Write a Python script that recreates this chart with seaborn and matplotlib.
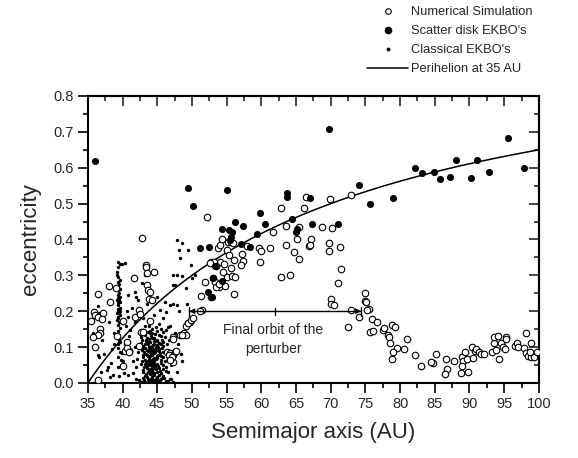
import numpy as np
import pandas as pd
import matplotlib
matplotlib.use('Agg')
import matplotlib.pyplot as plt
import seaborn as sns
from matplotlib.lines import Line2D
from matplotlib.ticker import MultipleLocator

# ---------------- data (semimajor axis AU, eccentricity) ----------------
numerical_sim = [
    (42.8,0.404),(43.4,0.328),(43.4,0.322),(43.5,0.306),(44.6,0.309),(41.6,0.293),(43.5,0.273),
    (43.6,0.259),(44.0,0.255),(38.1,0.271),(39.1,0.264),(36.5,0.248),(43.8,0.233),(44.2,0.231),
    (38.2,0.226),(35.9,0.199),(36.1,0.190),(36.4,0.185),(37.2,0.196),(35.4,0.172),(37.0,0.179),
    (42.4,0.203),(41.8,0.183),(43.9,0.173),(40.1,0.173),(36.8,0.151),(36.7,0.138),(36.5,0.134),
    (35.7,0.127),(39.2,0.132),(40.6,0.115),(36.1,0.101),(40.3,0.090),(41.0,0.090),(42.3,0.103),
    (40.1,0.048),(36.4,0.008),(42.7,0.143),(42.5,0.192),(40.6,0.097),(40.9,0.087),(43.0,0.143),
    (47.2,0.127),(46.4,0.087),(46.9,0.083),(47.6,0.087),(47.3,0.078),(46.9,0.069),(47.3,0.059),
    (48.3,0.134),(48.8,0.138),(49.1,0.135),(49.4,0.166),(49.7,0.171),
    (46.7,0.078),(47.1,0.073),(46.8,0.064),(47.7,0.089),(47.3,0.122),(48.5,0.134),
    (49.1,0.159),(49.5,0.166),(49.9,0.176),(50.2,0.182),(51.5,0.203),(51.1,0.200),(51.3,0.243),
    (51.9,0.282),(53.0,0.292),(53.3,0.281),(52.1,0.462),(53.8,0.375),(54.0,0.385),(52.8,0.338),
    (54.0,0.336),(54.6,0.331),(55.0,0.371),(55.2,0.394),(54.5,0.310),(53.9,0.267),(55.1,0.296),
    (52.8,0.239),(53.5,0.268),(54.3,0.401),(55.7,0.392),(55.9,0.389),(53.2,0.337),(53.4,0.326),
    (52.6,0.334),(54.7,0.271),(53.9,0.276),(55.3,0.357),(55.6,0.320),(55.8,0.298),(56.2,0.295),
    (56.1,0.343),(56.1,0.248),(57.2,0.360),(57.4,0.341),(57.0,0.328),(57.9,0.382),
    (59.6,0.375),(60.0,0.368),(59.8,0.336),(61.3,0.377),(61.7,0.422),(62.8,0.489),(63.6,0.438),
    (63.6,0.385),(62.9,0.296),(64.1,0.302),(64.7,0.364),(65.4,0.347),(65.2,0.401),(65.5,0.434),
    (66.1,0.489),(66.4,0.519),(66.8,0.383),(67.1,0.400),(67.0,0.385),(68.8,0.434),(69.9,0.513),
    (70.2,0.431),(69.8,0.389),(69.8,0.369),(71.4,0.379),(71.5,0.319),(71.0,0.278),(72.9,0.524),
    (70.1,0.233),(70.0,0.219),(70.5,0.217),(72.9,0.203),(72.5,0.157),(74.1,0.183),(75.0,0.250),
    (75.0,0.229),(75.1,0.226),(75.5,0.207),(75.3,0.203),(75.9,0.179),(76.6,0.170),(75.6,0.141),
    (76.1,0.145),(77.5,0.149),(77.7,0.153),(78.8,0.163),(79.3,0.157),(78.3,0.135),(78.4,0.128),
    (78.6,0.111),(79.5,0.098),(79.0,0.085),(78.8,0.067),
    (81.0,0.123),(80.6,0.094),(82.2,0.078),(83.0,0.046),(84.7,0.056),(84.5,0.058),(85.2,0.081),
    (86.6,0.066),(86.7,0.038),(86.4,0.025),(87.8,0.060),(88.9,0.072),(89.1,0.060),(88.9,0.047),
    (88.8,0.029),(89.8,0.031),(89.4,0.086),(89.7,0.068),(90.5,0.069),(90.4,0.101),(90.8,0.090),
    (91.0,0.094),(91.3,0.087),(91.6,0.081),(92.1,0.081),(93.2,0.087),(93.5,0.111),(93.8,0.092),
    (93.5,0.127),(94.1,0.131),(94.3,0.066),(94.5,0.111),(94.8,0.101),(95.1,0.096),(95.2,0.129),
    (95.2,0.123),(96.5,0.104),(96.8,0.111),(97.0,0.101),(98.2,0.140),(97.8,0.097),(98.1,0.083),
    (98.5,0.075),(98.8,0.073),(99.3,0.073),(98.7,0.087),(98.9,0.111),(99.7,0.087),
]

scatter_disk = [
    (36.0,0.620),(49.4,0.543),(50.1,0.493),(51.1,0.375),(52.5,0.380),(55.0,0.538),(54.3,0.429),
    (55.4,0.427),(55.8,0.420),(55.6,0.408),(55.5,0.399),(56.2,0.448),(57.3,0.437),(57.0,0.388),
    (58.3,0.379),(59.4,0.416),(59.8,0.474),(60.6,0.442),(63.7,0.529),(63.7,0.519),(64.4,0.457),
    (65.2,0.428),(65.0,0.420),(67.0,0.517),(67.3,0.444),(69.8,0.707),(71.1,0.443),(74.1,0.552),
    (75.6,0.498),(79.0,0.517),(82.2,0.598),(83.2,0.585),(84.9,0.587),(85.8,0.569),(87.2,0.574),
    (88.0,0.622),(90.2,0.571),(91.1,0.621),(92.8,0.588),(95.5,0.682),(97.8,0.598),(53.3,0.325),
    (53.1,0.293),(54.4,0.283),(52.3,0.253),(52.9,0.239),
]

classical = [
    # plutino strip near 39.4 AU
    (39.4,0.336),(39.6,0.333),(39.9,0.333),(40.3,0.335),(39.3,0.324),(39.2,0.310),(39.4,0.295),
    (39.6,0.288),(39.3,0.282),(39.5,0.276),(39.3,0.268),(39.4,0.262),(39.7,0.262),(39.3,0.259),
    (39.5,0.252),(39.3,0.245),(39.6,0.241),(39.4,0.238),(39.2,0.231),(39.5,0.231),(39.6,0.227),
    (39.3,0.222),(39.4,0.217),(39.6,0.210),(39.4,0.205),(39.3,0.200),(39.7,0.200),(39.5,0.194),
    (39.2,0.195),(39.6,0.190),(39.3,0.185),(39.4,0.180),(39.2,0.176),(39.5,0.170),(39.6,0.170),
    (39.4,0.162),(39.7,0.152),(39.3,0.145),(39.4,0.134),(39.3,0.135),(39.5,0.120),(39.6,0.115),
    (39.3,0.108),(39.4,0.097),(39.6,0.085),(39.4,0.073),(39.8,0.064),(39.3,0.045),(39.5,0.020),
    (39.2,0.300),
    # left sparse
    (36.4,0.215),(36.6,0.195),(35.8,0.140),(36.5,0.078),(36.6,0.072),(37.1,0.120),(37.9,0.045),
    (37.7,0.036),(38.4,0.055),(38.2,0.018),(38.6,0.022),(38.5,0.095),(38.8,0.140),(37.3,0.080),
    (38.0,0.170),(38.7,0.110),(36.9,0.030),
    # 40 - 42.5 AU
    (39.9,0.083),(40.1,0.060),(40.2,0.027),(40.8,0.022),(41.5,0.027),(41.1,0.148),(41.8,0.171),
    (40.8,0.185),(42.2,0.231),(42.0,0.241),(40.8,0.245),(41.8,0.255),(42.2,0.087),(41.8,0.101),
    (42.5,0.109),(41.0,0.130),(40.6,0.200),(41.3,0.210),(42.0,0.190),(40.5,0.160),(41.5,0.060),
    (42.0,0.045),(41.2,0.090),(40.4,0.110),(41.9,0.010),(42.3,0.140),(42.1,0.068),
    # dense classical belt
    (42.9,0.148),(43.6,0.142),(44.3,0.150),(45.0,0.145),(45.8,0.141),(46.3,0.147),(44.0,0.139),
    (42.7,0.128),(43.2,0.133),(43.8,0.122),(44.1,0.131),(44.6,0.125),(45.2,0.134),(45.7,0.121),
    (46.1,0.129),(43.5,0.126),(44.9,0.120),
    (42.6,0.112),(43.0,0.104),(43.4,0.117),(43.7,0.108),(44.0,0.113),(44.3,0.102),(44.6,0.116),
    (44.9,0.107),(45.3,0.111),(45.8,0.103),(46.4,0.109),(43.9,0.100),(44.5,0.109),(45.1,0.101),
    (43.2,0.110),
    (42.8,0.092),(43.1,0.085),(43.3,0.097),(43.6,0.088),(43.9,0.094),(44.1,0.081),(44.4,0.096),
    (44.7,0.087),(45.0,0.093),(45.4,0.084),(45.7,0.098),(46.2,0.090),(43.4,0.082),(44.2,0.090),
    (44.8,0.099),(45.2,0.089),(43.8,0.099),(44.5,0.083),
    (42.9,0.072),(43.2,0.065),(43.5,0.078),(43.8,0.069),(44.0,0.075),(44.2,0.062),(44.5,0.071),
    (44.8,0.066),(45.1,0.077),(45.5,0.064),(45.9,0.073),(43.6,0.061),(44.3,0.079),(44.9,0.074),
    (43.9,0.064),(44.6,0.060),(46.5,0.068),
    (42.7,0.052),(43.1,0.045),(43.4,0.058),(43.7,0.049),(43.9,0.055),(44.2,0.043),(44.4,0.057),
    (44.7,0.048),(45.0,0.054),(45.3,0.041),(45.8,0.050),(43.5,0.041),(44.1,0.051),(44.6,0.041),
    (44.3,0.048),
    (43.0,0.032),(43.4,0.025),(43.8,0.037),(44.1,0.028),(44.3,0.035),(44.6,0.022),(44.9,0.031),
    (45.6,0.027),(46.3,0.034),(43.6,0.030),(44.4,0.024),(44.0,0.038),(45.2,0.021),
    (42.4,0.008),(42.9,0.014),(43.3,0.004),(43.7,0.011),(44.0,0.006),(44.2,0.016),(44.5,0.003),
    (44.8,0.012),(45.2,0.007),(45.7,0.013),(46.2,0.005),(46.8,0.010),(43.5,0.017),(44.3,0.009),
    (44.7,0.002),(45.4,0.003),(46.0,0.015),(47.3,0.004),(42.6,0.002),(43.9,0.001),
    (43.1,0.138),(43.9,0.146),(44.7,0.136),(45.5,0.130),(42.8,0.120),(43.4,0.121),(44.2,0.124),
    (45.0,0.118),(45.9,0.114),(43.6,0.113),(44.4,0.105),(45.6,0.108),(42.9,0.098),(43.5,0.091),
    (44.0,0.086),(44.6,0.092),(45.3,0.096),(45.9,0.086),(43.0,0.079),(43.7,0.074),(44.4,0.066),
    (45.0,0.069),(45.6,0.076),(46.1,0.061),(42.8,0.062),(43.3,0.053),(43.8,0.058),(44.5,0.052),
    (45.1,0.046),(45.6,0.056),(46.2,0.044),(42.9,0.037),(43.5,0.046),(44.2,0.033),(44.8,0.039),
    (45.4,0.033),(45.9,0.038),(43.2,0.020),(43.9,0.024),(44.5,0.029),(45.0,0.018),(45.8,0.020),
    (43.1,0.009),(43.6,0.003),(44.1,0.012),(44.6,0.007),(45.0,0.004),(45.5,0.010),(46.5,0.006),
    (47.0,0.012),(42.3,0.003),(44.9,0.001),(44.3,0.140),(44.8,0.155),(43.3,0.160),(45.6,0.150),
    # above the belt
    (43.0,0.180),(43.8,0.160),(44.5,0.190),(45.3,0.165),(45.4,0.203),(46.3,0.199),(46.1,0.227),
    (46.8,0.217),(47.3,0.220),(47.8,0.217),(44.9,0.240),(43.5,0.220),(42.8,0.280),(43.2,0.300),
    (45.9,0.180),(46.6,0.155),
    # 47 - 51 AU
    (47.8,0.399),(48.1,0.371),(48.3,0.348),(47.3,0.301),(47.8,0.301),(48.5,0.298),(47.5,0.273),
    (47.2,0.273),(49.2,0.264),(50.0,0.292),(48.6,0.390),(49.5,0.370),(46.9,0.160),(47.6,0.140),
    (48.0,0.110),(46.7,0.120),(47.0,0.050),(46.5,0.030),(48.2,0.200),(49.8,0.330),(50.4,0.300),
    (48.6,0.060),(49.3,0.220),(47.9,0.030),(48.4,0.080),
]

perihelion_q = 35.0            # AU, curve e = 1 - q/a
perturber_a = (49.6, 62.0, 74.4)   # final orbit range: min, mean, max
perturber_e = 0.20

x_ticks = list(range(35, 101, 5))
y_ticks = [0.0, 0.1, 0.2, 0.3, 0.4, 0.5, 0.6, 0.7, 0.8]

legend_labels = ["Numerical Simulation", "Scatter disk EKBO's",
                 "Classical EKBO's", "Perihelion at 35 AU"]

# ---------------- figure ----------------
sns.set_style('ticks')
plt.rcParams['font.family'] = ['Liberation Sans', 'DejaVu Sans']

df_sim = pd.DataFrame(numerical_sim, columns=['a', 'e'])
df_sd = pd.DataFrame(scatter_disk, columns=['a', 'e'])
df_cl = pd.DataFrame(classical, columns=['a', 'e'])
a_curve = np.linspace(perihelion_q, 100, 400)
df_curve = pd.DataFrame({'a': a_curve, 'e': 1 - perihelion_q / a_curve})

fig = plt.figure(figsize=(5.78, 4.58), dpi=100)
ax = fig.add_axes([0.152, 0.1638, 0.7803, 0.6266])

sns.lineplot(data=df_curve, x='a', y='e', ax=ax, color='black', lw=1.1, zorder=2)
sns.scatterplot(data=df_cl, x='a', y='e', ax=ax, color='black', s=6,
                marker='o', linewidth=0, zorder=3)
sns.scatterplot(data=df_sim, x='a', y='e', ax=ax, facecolor='white',
                edgecolor='black', s=22, linewidth=0.8, marker='o', zorder=4)
sns.scatterplot(data=df_sd, x='a', y='e', ax=ax, color='black', s=26,
                linewidth=0, marker='o', zorder=5)

# final orbit of the perturber
lo, mid, hi = perturber_a
ax.plot([lo, hi], [perturber_e, perturber_e], color='black', lw=1.0, zorder=6)
for xx, hh in ((lo, 0.012), (mid, 0.010), (hi, 0.012)):
    ax.plot([xx, xx], [perturber_e - hh, perturber_e + hh], color='black', lw=1.0, zorder=6)
for tip in (lo, hi):
    ax.annotate('', xy=(tip, perturber_e), xytext=(mid, perturber_e),
                arrowprops=dict(arrowstyle='-|>', color='black', lw=0, mutation_scale=11,
                                shrinkA=0, shrinkB=0), zorder=6)
ax.text(61.7, 0.12, "Final orbit of the\nperturber", ha='center', va='center',
        fontsize=10, linespacing=1.45)

ax.set_xlim(35, 100)
ax.set_ylim(0.0, 0.8)
ax.set_xticks(x_ticks)
ax.set_xticklabels([str(v) for v in x_ticks])
ax.set_yticks(y_ticks)
ax.set_yticklabels([f'{v:.1f}' for v in y_ticks])
ax.xaxis.set_minor_locator(MultipleLocator(2.5))
ax.yaxis.set_minor_locator(MultipleLocator(0.05))
ax.tick_params(which='both', direction='out', width=1.2, color='black',
               labelsize=10.5, pad=3, top=False, right=False)
ax.tick_params(which='major', length=7)
ax.tick_params(which='minor', length=3.5)
for sp in ax.spines.values():
    sp.set_visible(True)
    sp.set_linewidth(1.5)
    sp.set_color('black')

secx = ax.secondary_xaxis('top')
secx.set_xticks(x_ticks)
secx.xaxis.set_minor_locator(MultipleLocator(2.5))
secx.tick_params(which='both', direction='in', width=1.2, labeltop=False)
secx.tick_params(which='major', length=7)
secx.tick_params(which='minor', length=3.5)
secx.spines['top'].set_linewidth(1.5)

secy = ax.secondary_yaxis('right')
secy.set_yticks(y_ticks)
secy.yaxis.set_minor_locator(MultipleLocator(0.05))
secy.tick_params(which='both', direction='in', width=1.2, labelright=False)
secy.tick_params(which='major', length=7)
secy.tick_params(which='minor', length=3.5)
secy.spines['right'].set_linewidth(1.5)

ax.set_xlabel('Semimajor axis (AU)', fontsize=16, labelpad=8)
ax.set_ylabel('eccentricity', fontsize=16, labelpad=9)

handles = [
    Line2D([], [], ls='none', marker='o', markersize=4, markerfacecolor='white',
           markeredgecolor='black', markeredgewidth=0.8),
    Line2D([], [], ls='none', marker='o', markersize=4.5, color='black'),
    Line2D([], [], ls='none', marker='o', markersize=1.8, color='black'),
    Line2D([], [], color='black', lw=1.1),
]
fig.legend(handles, legend_labels, loc='upper left',
           bbox_to_anchor=(367 / 578, 1 - 6 / 458), frameon=False, fontsize=9.3,
           handlelength=3.2, handletextpad=0.2, labelspacing=0.55,
           borderpad=0, borderaxespad=0)

fig.savefig('out.png', dpi=100)
